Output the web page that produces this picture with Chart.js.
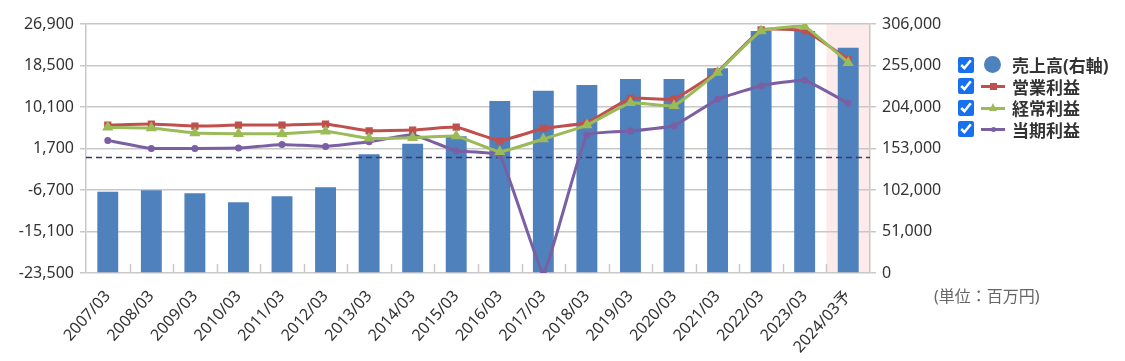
<!DOCTYPE html>
<html>
<head>
<meta charset="utf-8">
<script src="https://cdn.jsdelivr.net/npm/chart.js@4"></script>
<style>
    body { margin: 0; background: #fff; font-family: "Noto Sans", "Noto Sans CJK JP", sans-serif; }
    #wrap { position: relative; width: 1125px; height: 361px; }
    #legend { position: absolute; left: 956px; top: 54px; }
    #legend label { display: flex; align-items: center; height: 21.5px; font-weight: bold; font-size: 17px; color: #333; white-space: nowrap; }
    #legend input { width: 16px; height: 16px; margin: 0 6px 0 2px; accent-color: #1670f0; }
    .ico { position: relative; display: inline-block; width: 26px; height: 16px; margin-right: 6px; }
    .ico .ln { position: absolute; left: 1px; right: 1px; top: 7px; height: 3px; }
    .ico .mk { position: absolute; left: 10px; top: 5px; width: 7px; height: 7px; }
    #unit { position: absolute; left: 934px; top: 283px; font-size: 16px; color: #666; }
</style>
</head>
<body>
<div id="wrap">
    <canvas id="chart" width="1125" height="361"></canvas>
    <div id="legend"></div>
    <div id="unit">(単位：百万円)</div>
</div>
<script>
const categories = ["2007/03", "2008/03", "2009/03", "2010/03", "2011/03", "2012/03", "2013/03", "2014/03", "2015/03",
    "2016/03", "2017/03", "2018/03", "2019/03", "2020/03", "2021/03", "2022/03", "2023/03", "2024/03予"];

// 売上高 (右軸)
const uriage = [99700, 101700, 98100, 87000, 94400, 105400, 146000, 158700, 168200,
    211300, 223900, 231000, 238300, 238300, 251500, 297400, 297400, 276800];
const eigyo = [6440, 6650, 6240, 6440, 6440, 6650, 5290, 5430, 6040,
    3260, 5780, 6910, 11860, 11710, 17250, 25700, 25560, 19760];
const keijo = [5980, 5840, 4820, 4680, 4680, 5170, 3750, 3870, 4220,
    1030, 3610, 6440, 10960, 10360, 17090, 25500, 26370, 19070];
const toki = [3340, 1720, 1720, 1780, 2530, 2130, 3060, 4480, 1240,
    360, -23400, 4420, 5230, 6300, 11650, 14410, 15500, 10840];

const leftTicks = [-23500, -15100, -6700, 1700, 10100, 18500, 26900];
const rightTicks = [0, 51000, 102000, 153000, 204000, 255000, 306000];

const gridColor = "#c8c8c8";
const tickFont = { family: "'Noto Sans', 'Noto Sans CJK JP', sans-serif", size: 16 };

const decor = {
    id: "decor",
    beforeDraw(chart) {
        const { ctx, chartArea, scales } = chart;
        const x = scales.x;
        const step = (x.right - x.left) / categories.length;
        const last = x.getPixelForValue(categories.length - 1);
        ctx.save();
        ctx.fillStyle = "#fdeaea";
        ctx.fillRect(last - step / 2, chartArea.top, chartArea.right - (last - step / 2), chartArea.bottom - chartArea.top);
        ctx.restore();
    },
    beforeDatasetsDraw(chart) {
        const { ctx, chartArea, scales } = chart;
        const x = scales.x;
        const step = (x.right - x.left) / categories.length;
        ctx.save();
        ctx.strokeStyle = gridColor;
        ctx.lineWidth = 1.5;
        for (let i = 1; i < categories.length; i++) {
            const px = Math.round(x.getPixelForValue(i) - step / 2) + 0.5;
            ctx.beginPath();
            ctx.moveTo(px, chartArea.bottom);
            ctx.lineTo(px, chartArea.bottom - 9);
            ctx.stroke();
        }
        ctx.restore();
    },
    afterDatasetDraw(chart, args) {
        if (args.meta.type !== "bar") return;
        const { ctx, chartArea, scales } = chart;
        const y0 = Math.round(scales.y.getPixelForValue(0)) + 0.5;
        ctx.save();
        ctx.strokeStyle = "#3a3a6a";
        ctx.lineWidth = 1.3;
        ctx.setLineDash([6, 4]);
        ctx.beginPath();
        ctx.moveTo(chartArea.left, y0);
        ctx.lineTo(chartArea.right, y0);
        ctx.stroke();
        ctx.restore();
    }
};

const chart = new Chart(document.getElementById("chart"), {
    data: {
        labels: categories,
        datasets: [
            {
                type: "bar",
                label: "売上高(右軸)",
                data: uriage,
                yAxisID: "y2",
                backgroundColor: "#4f81bd",
                barPercentage: 0.48,
                categoryPercentage: 1,
                order: 10
            },
            {
                type: "line",
                label: "当期利益",
                data: toki,
                yAxisID: "y",
                borderColor: "#7b5fa3",
                backgroundColor: "#7b5fa3",
                borderWidth: 3,
                pointStyle: "circle",
                pointRadius: 2,
                tension: 0.1,
                order: 3
            },
            {
                type: "line",
                label: "営業利益",
                data: eigyo,
                yAxisID: "y",
                borderColor: "#c0504d",
                backgroundColor: "#c0504d",
                borderWidth: 3,
                pointStyle: "rect",
                pointRadius: 3,
                tension: 0.1,
                order: 2
            },
            {
                type: "line",
                label: "経常利益",
                data: keijo,
                yAxisID: "y",
                borderColor: "#9bbb59",
                backgroundColor: "#9bbb59",
                borderWidth: 3,
                pointStyle: "triangle",
                pointRadius: 3.5,
                tension: 0.1,
                order: 1
            }
        ]
    },
    options: {
        responsive: false,
        animation: false,
        layout: { padding: { top: 24, right: 170, bottom: 0, left: 0 } },
        plugins: { legend: { display: false }, tooltip: { enabled: false } },
        scales: {
            x: {
                offset: true,
                grid: { display: false },
                border: { display: false },
                ticks: { font: { ...tickFont, size: 16 }, color: "#333", minRotation: 48, maxRotation: 48, autoSkip: false, padding: 6 },
                afterFit(s) { s.height = 88; }
            },
            y: {
                position: "left",
                min: -23500,
                max: 26900,
                afterBuildTicks(s) { s.ticks = leftTicks.map(v => ({ value: v })); },
                grid: { color: gridColor, lineWidth: 1.5, tickLength: 6 },
                border: { color: gridColor, width: 1.5 },
                ticks: { font: tickFont, color: "#333", padding: 6, callback: v => v.toLocaleString("en-US") },
                afterFit(s) { s.width = 86; }
            },
            y2: {
                position: "right",
                min: 0,
                max: 306000,
                afterBuildTicks(s) { s.ticks = rightTicks.map(v => ({ value: v })); },
                grid: { drawOnChartArea: false, color: gridColor, lineWidth: 1.5, tickLength: 6 },
                border: { color: gridColor, width: 1.5 },
                ticks: { font: tickFont, color: "#333", padding: 6, callback: v => v.toLocaleString("en-US") },
                afterFit(s) { s.width = 85; }
            }
        }
    },
    plugins: [decor]
});

// legend with checkboxes
const legendItems = [
    { idx: 0, text: "売上高(右軸)", color: "#4f81bd", kind: "dot" },
    { idx: 2, text: "営業利益", color: "#c0504d", kind: "rect" },
    { idx: 3, text: "経常利益", color: "#9bbb59", kind: "tri" },
    { idx: 1, text: "当期利益", color: "#7b5fa3", kind: "dotsm" }
];
const legend = document.getElementById("legend");
legendItems.forEach(it => {
    const lab = document.createElement("label");
    const cb = document.createElement("input");
    cb.type = "checkbox";
    cb.checked = true;
    cb.addEventListener("change", () => {
        chart.setDatasetVisibility(it.idx, cb.checked);
        chart.update();
    });
    const ico = document.createElement("span");
    ico.className = "ico";
    if (it.kind === "dot") {
        ico.innerHTML = '<span style="position:absolute;left:4px;top:-1px;width:17px;height:17px;border-radius:50%;background:' + it.color + '"></span>';
    } else {
        let mk = "";
        if (it.kind === "rect") mk = '<span class="mk" style="background:' + it.color + '"></span>';
        if (it.kind === "tri") mk = '<span style="position:absolute;left:9px;top:3px;width:0;height:0;border-left:4px solid transparent;border-right:4px solid transparent;border-bottom:8px solid ' + it.color + '"></span>';
        if (it.kind === "dotsm") mk = '<span style="position:absolute;left:11px;top:6px;width:5px;height:5px;border-radius:50%;background:' + it.color + '"></span>';
        ico.innerHTML = '<span class="ln" style="background:' + it.color + '"></span>' + mk;
    }
    lab.appendChild(cb);
    lab.appendChild(ico);
    lab.appendChild(document.createTextNode(it.text));
    legend.appendChild(lab);
});
</script>
</body>
</html>
